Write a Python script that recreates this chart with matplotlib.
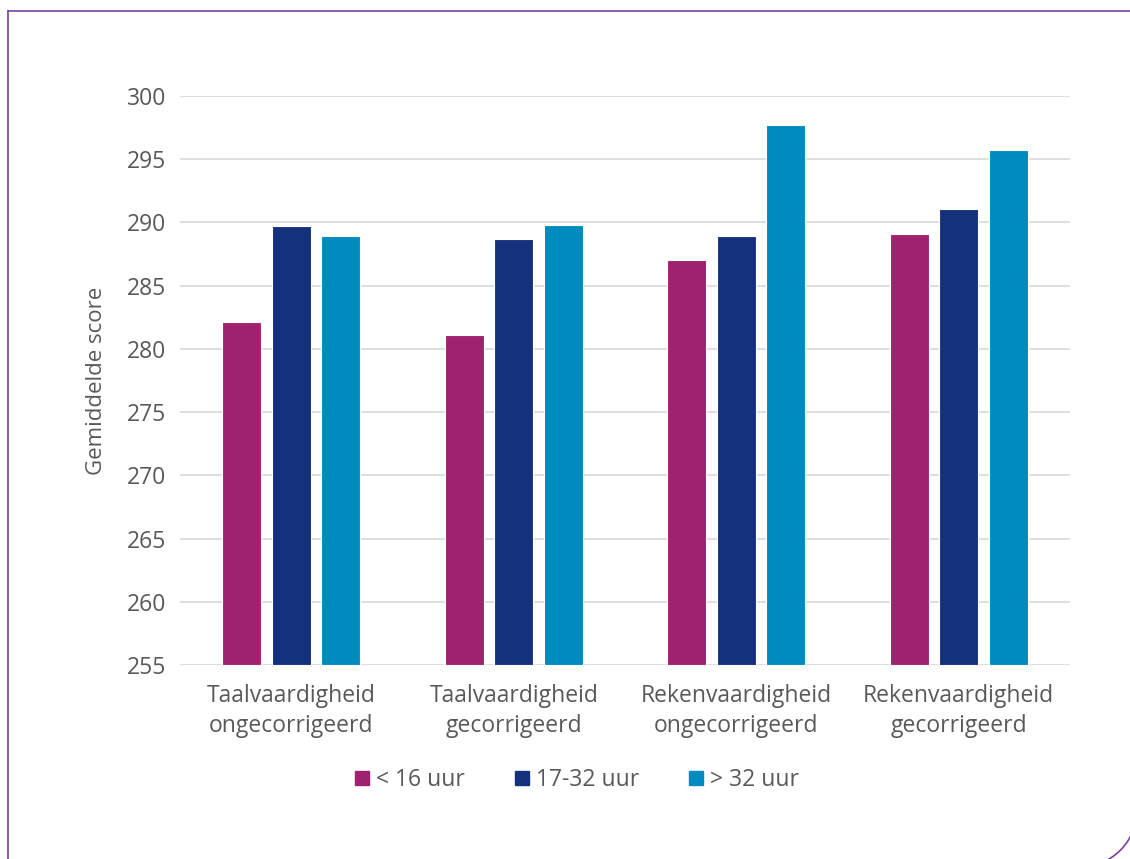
import matplotlib
matplotlib.use("Agg")
import matplotlib.pyplot as plt
import numpy as np
from matplotlib.patches import Arc
from matplotlib.lines import Line2D

categories = ["Taalvaardigheid\nongecorrigeerd", "Taalvaardigheid\ngecorrigeerd",
              "Rekenvaardigheid\nongecorrigeerd", "Rekenvaardigheid\ngecorrigeerd"]
series_names = ["< 16 uur", "17-32 uur", "> 32 uur"]
lt16 = [282.1, 281.1, 287.0, 289.1]
u17_32 = [289.7, 288.7, 288.9, 291.1]
gt32 = [288.9, 289.8, 297.7, 295.7]
yticks = [255, 260, 265, 270, 275, 280, 285, 290, 295, 300]

colors = ["#A02170", "#15317E", "#008BBF"]
text_color = "#595959"
plt.rcParams['font.family'] = ['Open Sans', 'DejaVu Sans']

W, H = 1130, 859
fig = plt.figure(figsize=(W/100, H/100), dpi=100)
ax = fig.add_axes([180/W, 1-665/H, 890/W, (665-96)/H])

x = np.arange(len(categories))
width = 0.175
step = 0.222
for i, (vals, name) in enumerate(zip([lt16, u17_32, gt32], series_names)):
    ax.bar(x + (i-1)*step, np.array(vals) - 255, bottom=255, width=width,
           color=colors[i], edgecolor="white", linewidth=0.8, label=name, zorder=3)

fs = 16.5
ax.set_xlim(-0.5, 3.5)
ax.set_ylim(255, 300)
ax.set_yticks(yticks)
ax.set_yticklabels([str(t) for t in yticks])
ax.set_xticks(x)
ax.set_xticklabels(categories, fontsize=fs, color=text_color, linespacing=1.3)
ax.tick_params(axis='y', labelsize=fs, labelcolor=text_color, length=0, pad=10)
ax.tick_params(axis='x', length=0, pad=14)
ax.grid(axis='y', color="#D9D9D9", linewidth=1.2, zorder=0)
for s in ax.spines.values():
    s.set_visible(False)
ax.set_ylabel("Gemiddelde score", fontsize=16, color=text_color, labelpad=14)

handles = [Line2D([0], [0], marker='s', linestyle='none', markersize=10.5,
                  markerfacecolor=c, markeredgecolor=c) for c in colors]
fig.legend(handles, series_names, loc='center', bbox_to_anchor=(575/W, 1-780/H),
           ncol=3, frameon=False, fontsize=fs, labelcolor=text_color,
           handletextpad=0.1, columnspacing=2.0, handlelength=1.0)

# border
bc = "#7B3F9E"
fig.add_artist(Line2D([8/W, 8/W], [0, 1-11/H], color=bc, linewidth=1.2, transform=fig.transFigure))
fig.add_artist(Line2D([8/W, 1], [1-11/H, 1-11/H], color=bc, linewidth=1.2, transform=fig.transFigure))
arc = Arc((1080, H-810), 114, 114, theta1=-90, theta2=0, color=bc, linewidth=1.2,
          transform=None)
fig.add_artist(arc)

fig.savefig("out.png", dpi=100)
